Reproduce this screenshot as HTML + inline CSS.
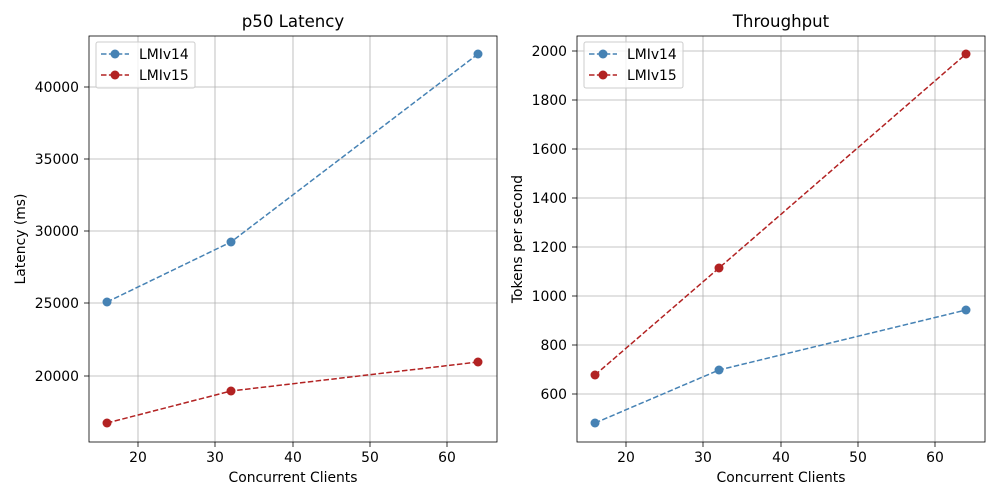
<!DOCTYPE html>
<html><head><style>body{margin:0;background:#fff}svg{display:block;font-family:"DejaVu Sans","Liberation Sans",sans-serif}</style></head><body>
<svg width="1000" height="500" xmlns="http://www.w3.org/2000/svg">
<g stroke="#b0b0b0" stroke-width="0.8">
<line x1="138" y1="36" x2="138" y2="442"/><line x1="215" y1="36" x2="215" y2="442"/><line x1="293" y1="36" x2="293" y2="442"/><line x1="370" y1="36" x2="370" y2="442"/><line x1="447" y1="36" x2="447" y2="442"/>
<line x1="89" y1="87" x2="497" y2="87"/><line x1="89" y1="159" x2="497" y2="159"/><line x1="89" y1="231" x2="497" y2="231"/><line x1="89" y1="303" x2="497" y2="303"/><line x1="89" y1="376" x2="497" y2="376"/>
<line x1="626" y1="36" x2="626" y2="442"/><line x1="703" y1="36" x2="703" y2="442"/><line x1="781" y1="36" x2="781" y2="442"/><line x1="858" y1="36" x2="858" y2="442"/><line x1="935" y1="36" x2="935" y2="442"/>
<line x1="577" y1="51" x2="985" y2="51"/><line x1="577" y1="100" x2="985" y2="100"/><line x1="577" y1="149" x2="985" y2="149"/><line x1="577" y1="198" x2="985" y2="198"/><line x1="577" y1="247" x2="985" y2="247"/><line x1="577" y1="296" x2="985" y2="296"/><line x1="577" y1="345" x2="985" y2="345"/><line x1="577" y1="394" x2="985" y2="394"/>
</g>
<g fill="none" stroke-width="1.5" stroke-dasharray="5.5,2.4">
<polyline stroke="#4682b4" points="107,302 231,242 478,54"/>
<polyline stroke="#b22222" points="107,423 231,391 478,362"/>
<polyline stroke="#4682b4" points="595,423 719,370 966,310"/>
<polyline stroke="#b22222" points="595,375 719,268 966,54"/>
</g>
<g fill="#4682b4"><circle cx="107" cy="302" r="4.5"/><circle cx="231" cy="242" r="4.5"/><circle cx="478" cy="54" r="4.5"/><circle cx="595" cy="423" r="4.5"/><circle cx="719" cy="370" r="4.5"/><circle cx="966" cy="310" r="4.5"/></g>
<g fill="#b22222"><circle cx="107" cy="423" r="4.5"/><circle cx="231" cy="391" r="4.5"/><circle cx="478" cy="362" r="4.5"/><circle cx="595" cy="375" r="4.5"/><circle cx="719" cy="268" r="4.5"/><circle cx="966" cy="54" r="4.5"/></g>
<g fill="none" stroke="#000" stroke-width="0.8"><rect x="89" y="36" width="408" height="406"/><rect x="577" y="36" width="408" height="406"/></g>
<g stroke="#000" stroke-width="0.8">
<line x1="138" y1="442" x2="138" y2="447"/><line x1="215" y1="442" x2="215" y2="447"/><line x1="293" y1="442" x2="293" y2="447"/><line x1="370" y1="442" x2="370" y2="447"/><line x1="447" y1="442" x2="447" y2="447"/>
<line x1="84" y1="87" x2="89" y2="87"/><line x1="84" y1="159" x2="89" y2="159"/><line x1="84" y1="231" x2="89" y2="231"/><line x1="84" y1="303" x2="89" y2="303"/><line x1="84" y1="376" x2="89" y2="376"/>
<line x1="626" y1="442" x2="626" y2="447"/><line x1="703" y1="442" x2="703" y2="447"/><line x1="781" y1="442" x2="781" y2="447"/><line x1="858" y1="442" x2="858" y2="447"/><line x1="935" y1="442" x2="935" y2="447"/>
<line x1="572" y1="51" x2="577" y2="51"/><line x1="572" y1="100" x2="577" y2="100"/><line x1="572" y1="149" x2="577" y2="149"/><line x1="572" y1="198" x2="577" y2="198"/><line x1="572" y1="247" x2="577" y2="247"/><line x1="572" y1="296" x2="577" y2="296"/><line x1="572" y1="345" x2="577" y2="345"/><line x1="572" y1="394" x2="577" y2="394"/>
</g>
<g font-size="13.9" text-anchor="middle">
<text x="138" y="462">20</text><text x="215" y="462">30</text><text x="293" y="462">40</text><text x="370" y="462">50</text><text x="447" y="462">60</text>
<text x="626" y="462">20</text><text x="703" y="462">30</text><text x="781" y="462">40</text><text x="858" y="462">50</text><text x="935" y="462">60</text>
<text x="293" y="482">Concurrent Clients</text><text x="781" y="482">Concurrent Clients</text>
<text x="293" y="27" font-size="16.6">p50 Latency</text><text x="781" y="27" font-size="16.6">Throughput</text>
<text transform="translate(25,239) rotate(-90)">Latency (ms)</text>
<text transform="translate(522,239) rotate(-90)">Tokens per second</text>
</g>
<g font-size="13.9" text-anchor="end">
<text x="79" y="92">40000</text><text x="79" y="164">35000</text><text x="79" y="236">30000</text><text x="79" y="308">25000</text><text x="79" y="381">20000</text>
<text x="567" y="56">2000</text><text x="567" y="105">1800</text><text x="567" y="154">1600</text><text x="567" y="203">1400</text><text x="567" y="252">1200</text><text x="567" y="301">1000</text><text x="567" y="350">800</text><text x="567" y="399">600</text>
</g>
<g>
<rect x="96" y="42" width="99" height="46" rx="2" fill="#fff" fill-opacity="0.8" stroke="#ccc"/>
<rect x="584" y="42" width="99" height="46" rx="2" fill="#fff" fill-opacity="0.8" stroke="#ccc"/>
<g fill="none" stroke-width="1.5" stroke-dasharray="5.5,2.4">
<line x1="101" y1="54" x2="129" y2="54" stroke="#4682b4"/><line x1="101" y1="75" x2="129" y2="75" stroke="#b22222"/>
<line x1="589" y1="54" x2="617" y2="54" stroke="#4682b4"/><line x1="589" y1="75" x2="617" y2="75" stroke="#b22222"/>
</g>
<circle cx="115" cy="54" r="4.5" fill="#4682b4"/><circle cx="115" cy="75" r="4.5" fill="#b22222"/>
<circle cx="603" cy="54" r="4.5" fill="#4682b4"/><circle cx="603" cy="75" r="4.5" fill="#b22222"/>
<g font-size="13.9"><text x="139" y="59">LMIv14</text><text x="139" y="80">LMIv15</text><text x="627" y="59">LMIv14</text><text x="627" y="80">LMIv15</text></g>
</g>
</svg>
</body></html>
